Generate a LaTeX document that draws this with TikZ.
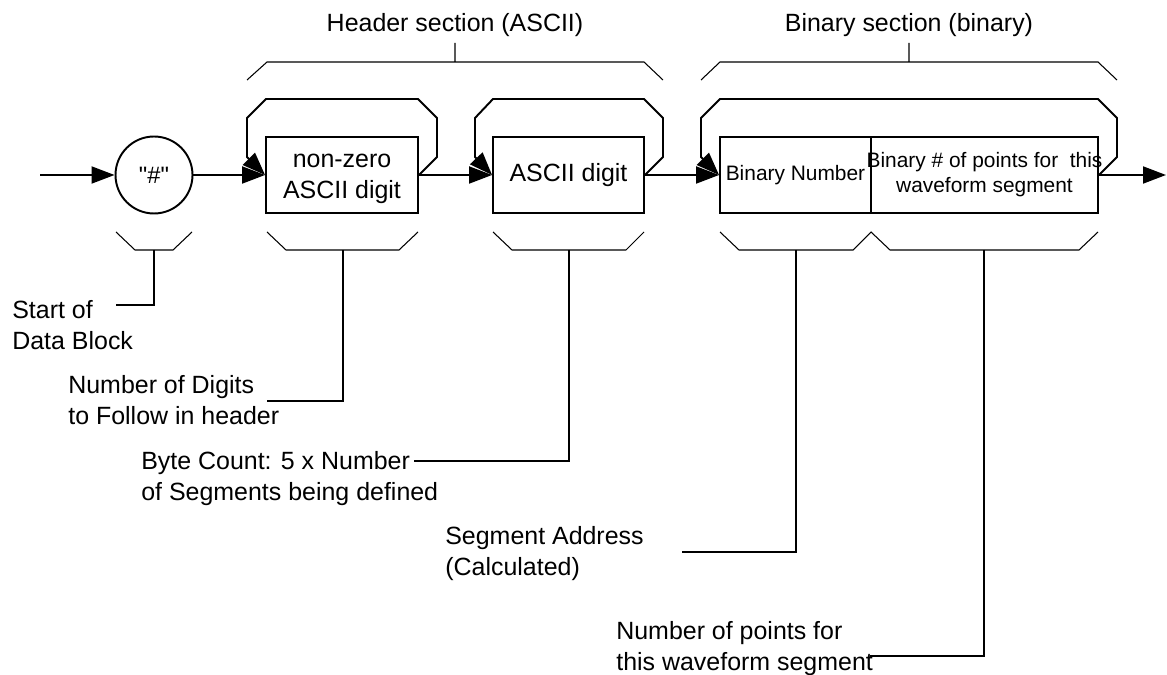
\documentclass[tikz,border=0pt]{standalone}
\usepackage{fontspec}
\setmainfont{Liberation Sans}
\usetikzlibrary{arrows.meta}
\tikzset{
blk/.style={draw, line width=1.1pt, minimum height=1.52cm, align=center},
flow/.style={line width=1.1pt, -{Triangle[length=0.46cm,width=0.34cm]}},
fb/.style={line width=1.1pt, line join=miter, -{Triangle[length=0.46cm,width=0.34cm]}},
brace/.style={line width=0.6pt},
lead/.style={line width=0.6pt},
lbl/.style={anchor=west, align=left}
}
\begin{document}
\begin{tikzpicture}[x=0.02cm,y=-0.02cm,every node/.style={inner sep=0pt,font=\fontsize{14.2}{17.6}\selectfont}]
\useasboundingbox (0,0) rectangle (1167,675);
\node[draw, circle, line width=1.1pt, minimum size=1.54cm, font=\fontsize{13.5}{16}\selectfont] (hash) at (154,175) {\textquotedbl\#\textquotedbl};
\node[blk, minimum width=3.04cm] (nzdig) at (342,175) {\strut non-zero\\ASCII digit};
\node[blk, minimum width=3.02cm] (adig) at (568.5,175) {ASCII digit};
\node[blk, minimum width=3.02cm, font=\fontsize{11.9}{14.2}\selectfont] (bnum) at (795.5,175) {Binary Number};
\node[blk, minimum width=4.54cm, font=\fontsize{11.9}{14.2}\selectfont] (bpts) at (984.5,175) {\makebox[0pt]{Binary \# of points for\ \ this}\\\makebox[0pt]{waveform segment}};
\coordinate (in) at (40,175);
\coordinate (out) at (1166,175);
\draw[flow] (in) -- (hash);
\draw[flow] (hash) -- (nzdig);
\draw[flow] (nzdig) -- (adig);
\draw[flow] (adig) -- (bnum);
\draw[flow] (bpts) -- (out);
\draw[fb] (nzdig.east) -- (437,157) -- (437,118) -- (418,99) -- (266,99) -- (247,118) -- (247,157) -- (nzdig.west);
\draw[fb] (adig.east) -- (663,157) -- (663,118) -- (644,99) -- (493,99) -- (475,118) -- (475,157) -- (adig.west);
\draw[fb] (bpts.east) -- (1117,157) -- (1117,118) -- (1098,99) -- (720,99) -- (701,118) -- (701,157) -- (bnum.west);
\node[anchor=base] (hdrtitle) at (455,32) {Header section (ASCII)};
\node[anchor=base] (bintitle) at (909,32) {Binary section (binary)};
\draw[brace] (247,80) -- (267,62) -- (644,62) -- (663,80) (455,62) -- (455,43);
\draw[brace] (701,80) -- (720,62) -- (1098,62) -- (1117,80) (909,62) -- (909,43);
\draw[brace] (116,232) -- (135,250) -- (173,250) -- (192,232);
\draw[brace] (267,232) -- (286,250) -- (399,250) -- (418,232);
\draw[brace] (493,232) -- (512,250) -- (626,250) -- (644,232);
\draw[brace] (720,232) -- (739,250) -- (853,250) -- (871,232) -- (890,250) -- (1079,250) -- (1098,232);
\coordinate (hashbr) at (154,250);
\coordinate (nzdigbr) at (343,250);
\coordinate (adigbr) at (569,250);
\coordinate (bnumbr) at (796,250);
\coordinate (bptsbr) at (984,250);
\node[lbl] (startlbl) at (12,325.5) {Start of\\Data Block};
\node[lbl] (digitslbl) at (68,400.5) {Number of Digits\\to Follow in header};
\node[lbl] (bytelbl) at (141,479) {Byte Count: 5 x Number\\of Segments being defined};
\node[lbl] (addrlbl) at (445,554) {Segment Address\\(Calculated)};
\node[lbl] (ptslbl) at (616,649) {Number of points for\\this waveform segment};
\coordinate (startend) at (116,305);
\coordinate (digitsend) at (267,401);
\coordinate (byteend) at (414,461);
\coordinate (addrend) at (682,552);
\coordinate (ptsend) at (870,656);
\draw[lead] (hashbr) |- (startend);
\draw[lead] (nzdigbr) |- (digitsend);
\draw[lead] (adigbr) |- (byteend);
\draw[lead] (bnumbr) |- (addrend);
\draw[lead] (bptsbr) |- (ptsend);
\end{tikzpicture}
\end{document}
